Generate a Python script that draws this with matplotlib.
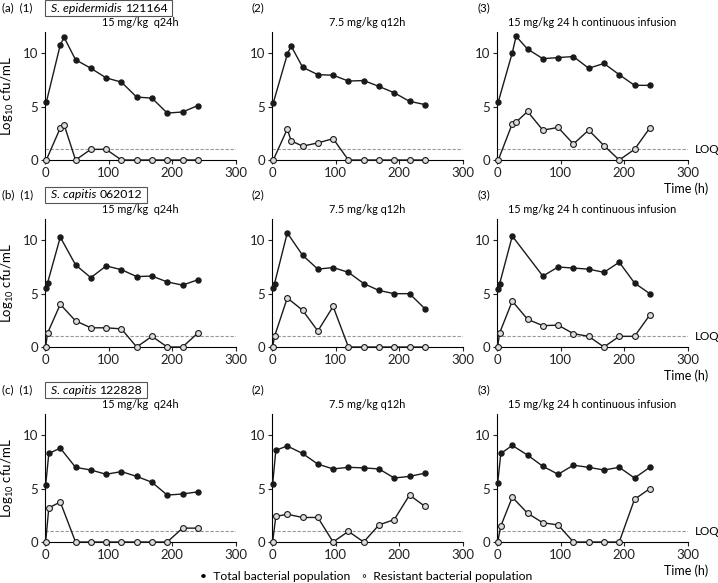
import matplotlib
matplotlib.use("Agg")
import matplotlib.pyplot as plt
from matplotlib.patches import Rectangle

plt.rcParams['font.family'] = ['Lato', 'DejaVu Sans']
plt.rcParams['mathtext.fontset'] = 'custom'
plt.rcParams['mathtext.rm'] = 'Lato'

# sampling times (h)
t_a = [2, 24, 30, 48, 72, 96, 120, 144, 168, 192, 216, 240]
t_b = [1, 4, 24, 48, 72, 96, 120, 144, 168, 192, 216, 240]
t_b3_total = [1, 4, 24, 72, 96, 120, 144, 168, 192, 216, 240]
t_c = [1, 6, 24, 48, 72, 96, 120, 144, 168, 192, 216, 240]

# (a) S. epidermidis 121164
a1_total = [5.4, 10.8, 11.5, 9.4, 8.6, 7.7, 7.3, 5.9, 5.8, 4.4, 4.5, 5.1]
a1_resist = [0, 3.0, 3.3, 0, 1.0, 1.0, 0, 0, 0, 0, 0, 0]
a2_total = [5.35, 9.9, 10.7, 8.7, 8.0, 7.95, 7.4, 7.45, 6.9, 6.3, 5.5, 5.2]
a2_resist = [0, 2.9, 1.8, 1.3, 1.6, 2.0, 0, 0, 0, 0, 0, 0]
a3_total = [5.45, 10.05, 11.6, 10.4, 9.5, 9.6, 9.7, 8.6, 9.05, 8.0, 7.0, 7.0]
a3_resist = [0, 3.4, 3.55, 4.55, 2.8, 3.05, 1.5, 2.8, 1.35, 0, 1.0, 3.0]

# (b) S. capitis 062012
b1_total = [5.5, 6.0, 10.3, 7.7, 6.5, 7.6, 7.25, 6.6, 6.65, 6.1, 5.8, 6.3]
b1_resist = [0, 1.3, 4.0, 2.45, 1.8, 1.8, 1.7, 0, 1.0, 0, 0, 1.3]
b2_total = [5.55, 5.95, 10.7, 8.6, 7.3, 7.45, 7.0, 5.95, 5.3, 5.0, 5.0, 3.6]
b2_resist = [0, 1.0, 4.6, 3.45, 1.5, 3.8, 0, 0, 0, 0, 0, 0]
b3_total = [5.45, 5.9, 10.4, 6.65, 7.5, 7.4, 7.3, 7.0, 7.95, 6.0, 5.0]
b3_resist = [0, 1.3, 4.3, 2.6, 2.0, 2.05, 1.25, 1.0, 0, 1.0, 1.0, 3.0]

# (c) S. capitis 122828
c1_total = [5.3, 8.3, 8.8, 7.0, 6.75, 6.35, 6.6, 6.15, 5.6, 4.4, 4.5, 4.7]
c1_resist = [0, 3.2, 3.75, 0, 0, 0, 0, 0, 0, 0, 1.3, 1.3]
c2_total = [5.4, 8.6, 9.0, 8.3, 7.3, 6.85, 7.0, 6.95, 6.85, 6.0, 6.15, 6.45]
c2_resist = [0, 2.4, 2.6, 2.3, 2.3, 0, 1.0, 0, 1.6, 2.1, 4.4, 3.35]
c3_total = [5.5, 8.3, 9.05, 8.15, 7.1, 6.35, 7.2, 7.0, 6.75, 7.0, 6.0, 7.0]
c3_resist = [0, 1.5, 4.2, 2.7, 1.8, 1.6, 0, 0, 0, 0, 4.0, 5.0]

loq = 1.0
regimens = ['15 mg/kg  q24h', '7.5 mg/kg q12h', '15 mg/kg 24 h continuous infusion']
row_letters = ['(a)', '(b)', '(c)']
species = ['S. epidermidis', 'S. capitis', 'S. capitis']
strain_ids = ['121164', '062012', '122828']

rows = [
    [(t_a, a1_total, t_a, a1_resist), (t_a, a2_total, t_a, a2_resist), (t_a, a3_total, t_a, a3_resist)],
    [(t_b, b1_total, t_b, b1_resist), (t_b, b2_total, t_b, b2_resist), (t_b3_total, b3_total, t_b, b3_resist)],
    [(t_c, c1_total, t_c, c1_resist), (t_c, c2_total, t_c, c2_resist), (t_c, c3_total, t_c, c3_resist)],
]

W, H = 718, 583
fig = plt.figure(figsize=(W / 100, H / 100), dpi=100)
renderer = fig.canvas.get_renderer()

col_left = [45, 272, 497]
ax_w = 191
row_bottom = [160, 347, 542]
ax_h = 128
fs = 8.5
ink = '#1a1a1a'

for r, row in enumerate(rows):
    for c, (tt, tot, tr, res) in enumerate(row):
        ax = fig.add_axes([col_left[c] / W, 1 - row_bottom[r] / H, ax_w / W, ax_h / H])
        ax.axhline(loq, color='#999999', lw=0.8, ls=(0, (3, 1.5)), zorder=1)
        ax.plot(tr, res, '-o', color=ink, lw=1.0, ms=4.2, mfc='#dcdcdc',
                mec=ink, mew=0.8, zorder=3, clip_on=False)
        ax.plot(tt, tot, '-o', color=ink, lw=1.0, ms=3.6, mfc=ink,
                mec=ink, zorder=4, clip_on=False)
        ax.set_xlim(0, 300)
        ax.set_ylim(0, 12)
        ax.set_xticks([0, 100, 200, 300])
        ax.set_yticks([0, 5, 10])
        ax.spines['top'].set_visible(False)
        ax.spines['right'].set_visible(False)
        for s in ['left', 'bottom']:
            ax.spines[s].set_linewidth(0.8)
        ax.tick_params(labelsize=fs + 1, length=3, width=0.8, pad=2, colors='#222222')
        ax.set_title(regimens[c], fontsize=7.8, pad=4)
        if c == 0:
            ax.set_ylabel(r'Log$_{10}$ cfu/mL', fontsize=fs + 1, labelpad=5)
        if c == 2:
            ax.text(311, loq, 'LOQ', fontsize=8.5, va='center', ha='left', clip_on=False)
        # panel numbers
        top_px = row_bottom[r] - ax_h - 24
        ytop = 1 - top_px / H
        if c == 0:
            fig.text(2 / W, ytop, row_letters[r] + '  (1)', fontsize=8.3, va='center')
            t1 = fig.text(51 / W, ytop, species[r], fontsize=8.8, style='italic', va='center')
            x1 = t1.get_window_extent(renderer).x1
            t2 = fig.text((x1 + 3) / W, ytop, strain_ids[r], fontsize=8.8, va='center')
            x2 = t2.get_window_extent(renderer).x1
            fig.patches.append(Rectangle((45 / W, ytop - 8 / H), (x2 + 5 - 45) / W, 16 / H,
                                         transform=fig.transFigure, fill=False,
                                         ec='#555555', lw=0.8))
        else:
            fig.text((col_left[c] - 20) / W, ytop, '(%d)' % (c + 1), fontsize=8.3, va='center')
    fig.text(686 / W, 1 - (row_bottom[r] + 29) / H, 'Time (h)', fontsize=fs + 0.5, ha='center', va='center')

# bottom legend
fig.text(350 / W, 1 - 576 / H, '\u2022  Total bacterial population', fontsize=fs + 0.3,
         ha='right', va='center')
fig.text(362 / W, 1 - 576 / H, '\u25e6  Resistant bacterial population', fontsize=fs + 0.3,
         ha='left', va='center')

fig.savefig('out.png', dpi=100)
